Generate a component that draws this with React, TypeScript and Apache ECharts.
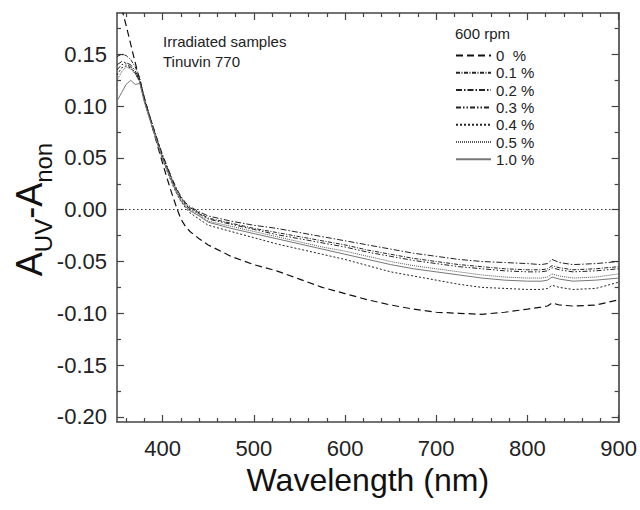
import React, { useEffect, useRef } from "react";
import * as echarts from "echarts";

const wavelengths = [350, 355, 360, 365, 370, 375, 380, 385, 390, 395, 400, 405, 410, 415, 420, 425, 430, 440, 450, 475, 500, 525, 550, 575, 600, 625, 650, 675, 700, 725, 750, 775, 800, 815, 822, 827, 835, 850, 875, 900];

const pct0 = [0.215, 0.195, 0.178, 0.16, 0.142, 0.125, 0.108, 0.092, 0.076, 0.06, 0.045, 0.03, 0.016, 0.003, -0.009, -0.016, -0.021, -0.028, -0.034, -0.045, -0.053, -0.059, -0.067, -0.075, -0.081, -0.087, -0.092, -0.096, -0.099, -0.1, -0.101, -0.099, -0.096, -0.094, -0.093, -0.09, -0.092, -0.093, -0.092, -0.087];
const pct01 = [0.148, 0.15, 0.149, 0.145, 0.138, 0.127, 0.108, 0.093, 0.079, 0.065, 0.052, 0.041, 0.03, 0.02, 0.012, 0.006, 0.002, -0.003, -0.008, -0.013, -0.018, -0.022, -0.026, -0.03, -0.034, -0.039, -0.043, -0.047, -0.05, -0.053, -0.055, -0.057, -0.058, -0.058, -0.057, -0.054, -0.056, -0.058, -0.057, -0.055];
const pct02 = [0.14, 0.143, 0.142, 0.14, 0.134, 0.125, 0.107, 0.093, 0.079, 0.066, 0.053, 0.042, 0.031, 0.021, 0.013, 0.007, 0.003, -0.002, -0.006, -0.011, -0.015, -0.018, -0.022, -0.026, -0.03, -0.034, -0.038, -0.042, -0.045, -0.048, -0.05, -0.051, -0.052, -0.053, -0.052, -0.048, -0.051, -0.053, -0.052, -0.05];
const pct03 = [0.135, 0.14, 0.141, 0.138, 0.132, 0.124, 0.106, 0.092, 0.078, 0.064, 0.051, 0.04, 0.029, 0.019, 0.011, 0.005, 0.001, -0.004, -0.009, -0.014, -0.019, -0.024, -0.028, -0.032, -0.036, -0.041, -0.045, -0.049, -0.052, -0.055, -0.057, -0.059, -0.06, -0.06, -0.059, -0.056, -0.058, -0.06, -0.059, -0.057];
const pct04 = [0.13, 0.137, 0.139, 0.137, 0.132, 0.124, 0.105, 0.09, 0.076, 0.062, 0.049, 0.037, 0.026, 0.016, 0.008, 0.002, -0.003, -0.009, -0.015, -0.021, -0.027, -0.033, -0.038, -0.043, -0.048, -0.054, -0.06, -0.064, -0.068, -0.072, -0.075, -0.076, -0.077, -0.077, -0.076, -0.073, -0.075, -0.077, -0.076, -0.07];
const pct05 = [0.125, 0.133, 0.138, 0.136, 0.131, 0.123, 0.105, 0.091, 0.077, 0.063, 0.05, 0.039, 0.028, 0.018, 0.01, 0.004, 0.0, -0.005, -0.011, -0.016, -0.021, -0.026, -0.031, -0.036, -0.04, -0.045, -0.05, -0.054, -0.057, -0.06, -0.063, -0.065, -0.066, -0.066, -0.065, -0.062, -0.064, -0.066, -0.065, -0.062];
const pct10 = [0.105, 0.113, 0.121, 0.125, 0.121, 0.122, 0.104, 0.09, 0.076, 0.062, 0.049, 0.038, 0.027, 0.017, 0.009, 0.003, -0.001, -0.006, -0.012, -0.018, -0.023, -0.028, -0.033, -0.038, -0.043, -0.048, -0.053, -0.057, -0.06, -0.063, -0.066, -0.068, -0.069, -0.069, -0.068, -0.065, -0.067, -0.069, -0.068, -0.066];

const seriesNames = ["0  %", "0.1 %", "0.2 %", "0.3 %", "0.4 %", "0.5 %", "1.0 %"];
const seriesValues = [pct0, pct01, pct02, pct03, pct04, pct05, pct10];

const xMajorTicks = [400, 500, 600, 700, 800, 900];
const xMinorTicks = [360, 380, 420, 440, 460, 480, 520, 540, 560, 580, 620, 640, 660, 680, 720, 740, 760, 780, 820, 840, 860, 880];
const yMajorTicks = [-0.2, -0.15, -0.1, -0.05, 0, 0.05, 0.1, 0.15];
const yMinorTicks = [-0.175, -0.125, -0.075, -0.025, 0.025, 0.075, 0.125, 0.175];

const FONT = "Liberation Sans, Arial, sans-serif";
const AXIS_COLOR = "#444";

const lineStyles = [
  { color: "#111", width: 1.2, type: [7, 4] },
  { color: "#222", width: 1, type: [4, 1.5, 1, 1.5] },
  { color: "#222", width: 1, type: [6, 2, 1.5, 2] },
  { color: "#222", width: 1, type: [5, 2, 1.5, 2, 1.5, 2] },
  { color: "#222", width: 1, type: [2, 2] },
  { color: "#555", width: 1, type: [1, 1] },
  { color: "#777", width: 1, type: "solid" },
];

function App() {
  const ref = useRef<HTMLDivElement>(null);
  useEffect(() => {
    if (!ref.current) return;
    const chart = echarts.init(ref.current, undefined, { renderer: "svg" });
    const tickLine = { color: AXIS_COLOR, width: 1.2 };
    const baseX = { type: "value", min: 350, max: 900, splitLine: { show: false } };
    const baseY = { type: "value", min: -0.205, max: 0.19, splitLine: { show: false } };
    const option: any = {
      animation: false,
      textStyle: { fontFamily: FONT },
      grid: { left: 117, right: 21, top: 13, bottom: 88 },
      xAxis: [
        {
          ...baseX,
          position: "bottom",
          axisLine: { show: true, onZero: false, lineStyle: { color: AXIS_COLOR, width: 1.5 } },
          axisTick: { show: true, inside: true, length: 7, customValues: xMajorTicks, lineStyle: tickLine },
          axisLabel: { show: true, customValues: xMajorTicks, fontSize: 22, margin: 15, color: "#222", fontFamily: FONT },
          name: "Wavelength (nm)",
          nameLocation: "middle",
          nameGap: 42,
          nameMoveOverlap: false,
          nameTextStyle: { fontSize: 32, color: "#111", fontFamily: FONT },
        },
        {
          ...baseX,
          position: "bottom",
          axisLine: { show: false, onZero: false },
          axisTick: { show: true, inside: true, length: 4, customValues: xMinorTicks, lineStyle: tickLine },
          axisLabel: { show: false },
        },
        {
          ...baseX,
          position: "top",
          axisLine: { show: true, onZero: false, lineStyle: { color: AXIS_COLOR, width: 1.5 } },
          axisTick: { show: true, inside: true, length: 7, customValues: xMajorTicks, lineStyle: tickLine },
          axisLabel: { show: false },
        },
        {
          ...baseX,
          position: "top",
          axisLine: { show: false, onZero: false },
          axisTick: { show: true, inside: true, length: 4, customValues: xMinorTicks, lineStyle: tickLine },
          axisLabel: { show: false },
        },
      ],
      yAxis: [
        {
          ...baseY,
          position: "left",
          axisLine: { show: true, onZero: false, lineStyle: { color: AXIS_COLOR, width: 1.5 } },
          axisTick: { show: true, inside: true, length: 7, customValues: yMajorTicks, lineStyle: tickLine },
          axisLabel: {
            show: true,
            customValues: yMajorTicks,
            fontSize: 22,
            margin: 10,
            color: "#222",
            fontFamily: FONT,
            formatter: (v: number) => (Math.abs(v) < 1e-9 ? "0.00" : v.toFixed(2)),
          },
          name: "{a|A}{b|UV}{a|-A}{b|non}",
          nameLocation: "middle",
          nameGap: 62,
          nameMoveOverlap: false,
          nameTextStyle: {
            color: "#111",
            fontFamily: FONT,
            padding: [0, 0, 0, 16],
            rich: {
              a: { fontSize: 36, lineHeight: 44, verticalAlign: "top", fontFamily: FONT, color: "#111" },
              b: { fontSize: 24, lineHeight: 24, padding: [20, 0, 0, 0], verticalAlign: "top", fontFamily: FONT, color: "#111" },
            },
          },
        },
        {
          ...baseY,
          position: "left",
          axisLine: { show: false, onZero: false },
          axisTick: { show: true, inside: true, length: 4, customValues: yMinorTicks, lineStyle: tickLine },
          axisLabel: { show: false },
        },
        {
          ...baseY,
          position: "right",
          axisLine: { show: true, onZero: false, lineStyle: { color: "#666", width: 2 } },
          axisTick: { show: true, inside: true, length: 7, customValues: yMajorTicks, lineStyle: tickLine },
          axisLabel: { show: false },
        },
        {
          ...baseY,
          position: "right",
          axisLine: { show: false, onZero: false },
          axisTick: { show: true, inside: true, length: 4, customValues: yMinorTicks, lineStyle: tickLine },
          axisLabel: { show: false },
        },
      ],
      legend: {
        orient: "vertical",
        left: 455,
        top: 48,
        itemWidth: 35,
        itemHeight: 14,
        itemGap: 2.3,
        padding: 0,
        data: seriesNames,
        itemStyle: { opacity: 0 },
        textStyle: { fontSize: 15, color: "#222", fontFamily: FONT },
      },
      graphic: [
        { type: "text", left: 163, top: 34, style: { text: "Irradiated samples", fontSize: 15, fill: "#222", fontFamily: FONT } },
        { type: "text", left: 163, top: 54, style: { text: "Tinuvin 770", fontSize: 15, fill: "#222", fontFamily: FONT } },
        { type: "text", left: 455, top: 26, style: { text: "600 rpm", fontSize: 15, fill: "#222", fontFamily: FONT } },
      ],
      series: seriesNames.map((name, i) => ({
        name,
        type: "line",
        xAxisIndex: 0,
        yAxisIndex: 0,
        symbol: "none",
        showSymbol: false,
        clip: true,
        data: wavelengths.map((w, j) => [w, seriesValues[i][j]]),
        lineStyle: lineStyles[i],
        itemStyle: { color: lineStyles[i].color },
        markLine:
          i === 0
            ? {
                silent: true,
                symbol: ["none", "none"],
                label: { show: false },
                lineStyle: { type: [1.5, 2.5], color: "#333", width: 1.2 },
                data: [{ yAxis: 0 }],
              }
            : undefined,
      })),
    };
    chart.setOption(option);
    return () => chart.dispose();
  }, []);
  return <div ref={ref} style={{ position: "absolute", left: 0, top: 0, width: 640, height: 510 }} />;
}

export default App;
